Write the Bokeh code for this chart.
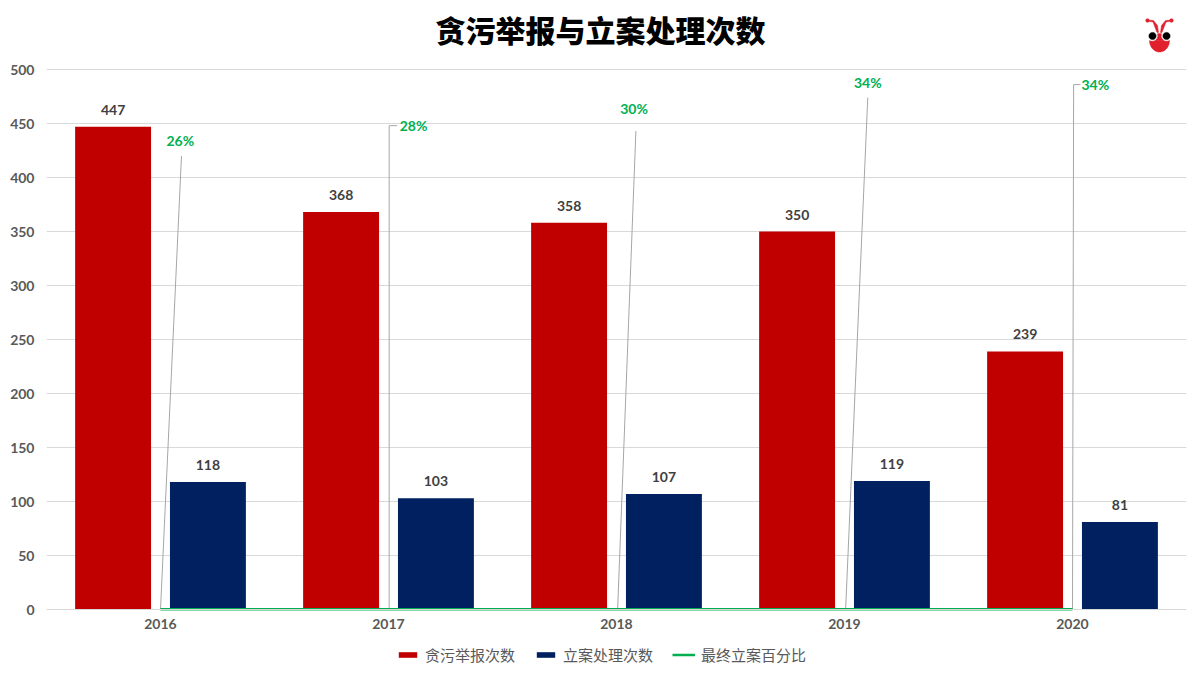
import numpy as np
from bokeh.core.properties import value
from bokeh.plotting import figure
from bokeh.models import ColumnDataSource, LabelSet, Label, Legend, LegendItem, Range1d, FixedTicker, PolyAnnotation
from bokeh.transform import dodge
from bokeh.embed import file_html
from bokeh.resources import INLINE

years = ["2016", "2017", "2018", "2019", "2020"]
reports = [447, 368, 358, 350, 239]
cases = [118, 103, 107, 119, 81]
share = [26, 28, 30, 34, 34]
share_labels = ["26%", "28%", "30%", "34%", "34%"]
# where each percentage callout sits (category units, value units)
callout_x = [0.587, 1.61, 2.577, 3.602, 4.60]
callout_y = [434, 448, 464, 488, 486]
leader_xs = [[0.5, 0.592], [1.503, 1.503, 1.538], [2.505, 2.585], [3.505, 3.602], [4.5, 4.505, 4.535]]
leader_ys = [[0, 420], [0, 448, 448], [0, 443], [0, 474], [0, 486, 486]]

CJK = "Noto Sans CJK SC"
NUM = "Lato"
W, H = 1192, 667
LEFT, RIGHT, ZERO = 46, 1186, 609
PX_X = (RIGHT - LEFT) / 5
PX_Y = 1.08

xc = [i + 0.5 for i in range(len(years))]
src = ColumnDataSource(dict(
    x=xc, reports=reports, cases=cases, share=[v / 100 for v in share],
    rl=[str(v) for v in reports], cl=[str(v) for v in cases],
))
call = ColumnDataSource(dict(x=callout_x, y=callout_y, t=share_labels))

p = figure(width=W, height=H, output_backend="svg", toolbar_location=None,
           x_range=Range1d(0, 5), y_range=Range1d(-(H - ZERO) / PX_Y, ZERO / PX_Y),
           min_border_left=LEFT, min_border_right=W - RIGHT, min_border_top=0, min_border_bottom=0,
           background_fill_color="white", border_fill_color="white", outline_line_color=None)

p.add_layout(Label(x=(600 - LEFT) / PX_X, y=(ZERO - 28) / PX_Y, text="贪污举报与立案处理次数",
                   text_font="Noto Sans CJK SC Black", text_font_size="30px", text_font_style="bold", text_color="#000000",
                   text_align="center", text_baseline="middle"))

off = 0.208
r1 = p.vbar(x=dodge("x", -off), top="reports", width=0.333, source=src, color="#c00000", line_color=None)
r2 = p.vbar(x=dodge("x", off), top="cases", width=0.333, source=src, color="#002060", line_color=None)
p.multi_line(leader_xs, leader_ys, line_color="#a6a6a6", line_width=1)
r3 = p.line(x="x", y="share", source=src, line_color="#00b050", line_width=2.5)

value_style = dict(text_font=value(NUM), text_font_size="14px", text_font_style="bold", text_color="#404040",
                   text_align="center", text_baseline="middle", y_offset=17, source=src)
p.add_layout(LabelSet(x=dodge("x", -off), y="reports", text="rl", **value_style))
p.add_layout(LabelSet(x=dodge("x", off), y="cases", text="cl", **value_style))
p.add_layout(LabelSet(x="x", y="y", text="t", source=call, text_font=value(NUM), text_font_size="14px",
                      text_font_style="bold", text_color="#00b050", text_align="center", text_baseline="middle"))

p.xgrid.visible = False
p.ygrid.grid_line_color = "#d9d9d9"
p.ygrid.grid_line_width = 1

p.yaxis.ticker = FixedTicker(ticks=list(range(0, 501, 50)))
p.yaxis.axis_line_color = None
p.yaxis.major_tick_line_color = None
p.yaxis.minor_tick_line_color = None
p.yaxis.major_tick_out = 0
p.yaxis.major_label_standoff = 12
p.yaxis.major_label_text_font = NUM
p.yaxis.major_label_text_font_size = "14px"
p.yaxis.major_label_text_font_style = "bold"
p.yaxis.major_label_text_color = "#595959"

p.xaxis.fixed_location = 0
p.xaxis.ticker = FixedTicker(ticks=xc)
p.xaxis.major_label_overrides = {x: y for x, y in zip(xc, years)}
p.xaxis.axis_line_color = "#d9d9d9"
p.xaxis.major_tick_line_color = None
p.xaxis.minor_tick_line_color = None
p.xaxis.major_tick_out = 0
p.xaxis.major_label_standoff = 9
p.xaxis.major_label_text_font = NUM
p.xaxis.major_label_text_font_size = "14px"
p.xaxis.major_label_text_font_style = "bold"
p.xaxis.major_label_text_color = "#595959"

legend = Legend(items=[LegendItem(label="贪污举报次数", renderers=[r1]),
                       LegendItem(label="立案处理次数", renderers=[r2]),
                       LegendItem(label="最终立案百分比", renderers=[r3])],
                orientation="horizontal", location=(396 - LEFT, 2), background_fill_alpha=0,
                border_line_color=None, glyph_width=23, glyph_height=7, spacing=19,
                label_standoff=6, label_text_font=CJK, label_text_font_size="15px",
                label_text_color="#595959", padding=0, margin=0)
p.add_layout(legend, "center")

# decorative ant logo, given in page pixels
def poly(xs, ys, color):
    dx = [(x - LEFT) / PX_X for x in xs]
    dy = [(ZERO - y) / PX_Y for y in ys]
    p.add_layout(PolyAnnotation(xs=dx, ys=dy, fill_color=color, fill_alpha=1, line_color=color,
                                line_alpha=1, line_width=0.5))

def disc(cx, cy, rx, ry=None, a0=0.0, a1=2 * np.pi):
    ry = rx if ry is None else ry
    t = np.linspace(a0, a1, 40)
    return list(cx + rx * np.cos(t)), list(cy + ry * np.sin(t))

RED = "#e0202c"
poly(*disc(1159, 40, 10, 11.5, 0, np.pi), RED)
poly(*disc(1159, 40, 6, 7, np.pi, 2 * np.pi), RED)
poly(*disc(1152, 35.5, 4.8), "#ffffff")
poly(*disc(1166, 35.5, 4.8), "#ffffff")
poly(*disc(1152, 35.5, 3.6), "#000000")
poly(*disc(1166, 35.5, 3.6), "#000000")
poly(*disc(1147, 20, 1.8), RED)
poly(*disc(1171, 20, 1.8), RED)
poly([1147, 1153, 1157, 1158, 1156.5, 1152.5, 1147], [19.6, 20, 25, 32, 32, 21.5, 20.4], RED)
poly([1171, 1165, 1161, 1160, 1161.5, 1165.5, 1171], [19.6, 20, 25, 32, 32, 21.5, 20.4], RED)

open("out.html", "w").write(file_html(p, INLINE))
